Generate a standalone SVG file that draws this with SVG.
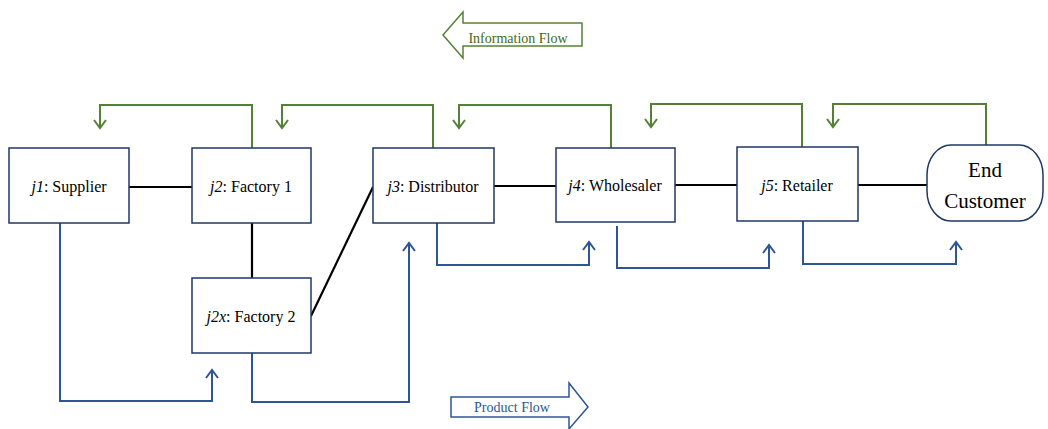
<svg xmlns="http://www.w3.org/2000/svg" width="1048" height="429" viewBox="0 0 1048 429">
<style>
.box{fill:#fff;stroke:#1f3864;stroke-width:1.5}
.lbl{font-family:'Liberation Serif', 'Times New Roman', serif;font-size:16px;fill:#000;text-anchor:middle}
.big{font-size:21px}
.leg{font-family:'Liberation Serif', 'Times New Roman', serif;font-size:14px;text-anchor:middle}
.link{stroke:#000;stroke-width:2.2;fill:none}
.info{stroke:#548235;stroke-width:2;fill:none}
.prod{stroke:#2f5597;stroke-width:2;fill:none}
.ahG{stroke:#548235;stroke-width:2;fill:none}
.ahB{stroke:#2f5597;stroke-width:2;fill:none}
</style>
<rect width="1048" height="429" fill="#fff"/>
<g id="legend-info">
<path d="M443,35 L463,12 L463,23 L582,23 L582,46 L463,46 L463,58 Z" fill="#fff" stroke="#548235" stroke-width="1.5"/>
<text class="leg" x="518" y="43" fill="#3d6b22">Information Flow</text>
</g>
<g id="legend-product">
<path d="M451,397 L569,397 L569,383 L588,407 L569,429 L569,417 L451,417 Z" fill="#fff" stroke="#2f5597" stroke-width="1.5"/>
<text class="leg" x="512" y="412" fill="#2f5597">Product Flow</text>
</g>
<g id="connectors">
<line class="link" x1="129" y1="187" x2="192" y2="187"/>
<line class="link" x1="252" y1="223" x2="252" y2="278"/>
<line class="link" x1="311" y1="316" x2="373" y2="187"/>
<line class="link" x1="494" y1="186" x2="556" y2="186"/>
<line class="link" x1="675" y1="185" x2="737" y2="185"/>
<line class="link" x1="858" y1="185" x2="927" y2="185"/>
<path class="info" d="M252,148 V105 H100 V128"/>
<path class="ahG" d="M94,120 L100,128 L106,120"/>
<path class="info" d="M433,148 V105 H282 V128"/>
<path class="ahG" d="M276,120 L282,128 L288,120"/>
<path class="info" d="M611,148 V105 H459 V128"/>
<path class="ahG" d="M453,120 L459,128 L465,120"/>
<path class="info" d="M802,147 V104 H651 V127"/>
<path class="ahG" d="M645,119 L651,127 L657,119"/>
<path class="info" d="M986,145 V104 H833 V127"/>
<path class="ahG" d="M827,119 L833,127 L839,119"/>
<path class="prod" d="M60,223 V401 H212 V370"/>
<path class="ahB" d="M206,378 L212,370 L218,378"/>
<path class="prod" d="M252,353 V402 H409 V243"/>
<path class="ahB" d="M403,251 L409,243 L415,251"/>
<path class="prod" d="M437,223 V265 H589 V242"/>
<path class="ahB" d="M583,250 L589,242 L595,250"/>
<path class="prod" d="M617,226 V268 H769 V245"/>
<path class="ahB" d="M763,253 L769,245 L775,253"/>
<path class="prod" d="M803,221 V264 H956 V242"/>
<path class="ahB" d="M950,250 L956,242 L962,250"/>
</g>
<g id="j1">
<rect class="box" x="9" y="148" width="120" height="75"/>
<text class="lbl" x="69" y="192"><tspan font-style="italic">j1</tspan>: Supplier</text>
</g>
<g id="j2">
<rect class="box" x="192" y="148" width="119" height="75"/>
<text class="lbl" x="251" y="192"><tspan font-style="italic">j2</tspan>: Factory 1</text>
</g>
<g id="j2x">
<rect class="box" x="192" y="278" width="119" height="75"/>
<text class="lbl" x="251" y="322"><tspan font-style="italic">j2x</tspan>: Factory 2</text>
</g>
<g id="j3">
<rect class="box" x="373" y="148" width="121" height="75"/>
<text class="lbl" x="433" y="192"><tspan font-style="italic">j3</tspan>: Distributor</text>
</g>
<g id="j4">
<rect class="box" x="556" y="148" width="119" height="74"/>
<text class="lbl" x="615" y="191"><tspan font-style="italic">j4</tspan>: Wholesaler</text>
</g>
<g id="j5">
<rect class="box" x="737" y="147" width="121" height="74"/>
<text class="lbl" x="797" y="191"><tspan font-style="italic">j5</tspan>: Retailer</text>
</g>
<g id="end-customer">
<rect class="box" x="927" y="145" width="116" height="76" rx="24" ry="30"/>
<text class="lbl big" x="985" y="177">End</text>
<text class="lbl big" x="985" y="208">Customer</text>
</g>
</svg>
